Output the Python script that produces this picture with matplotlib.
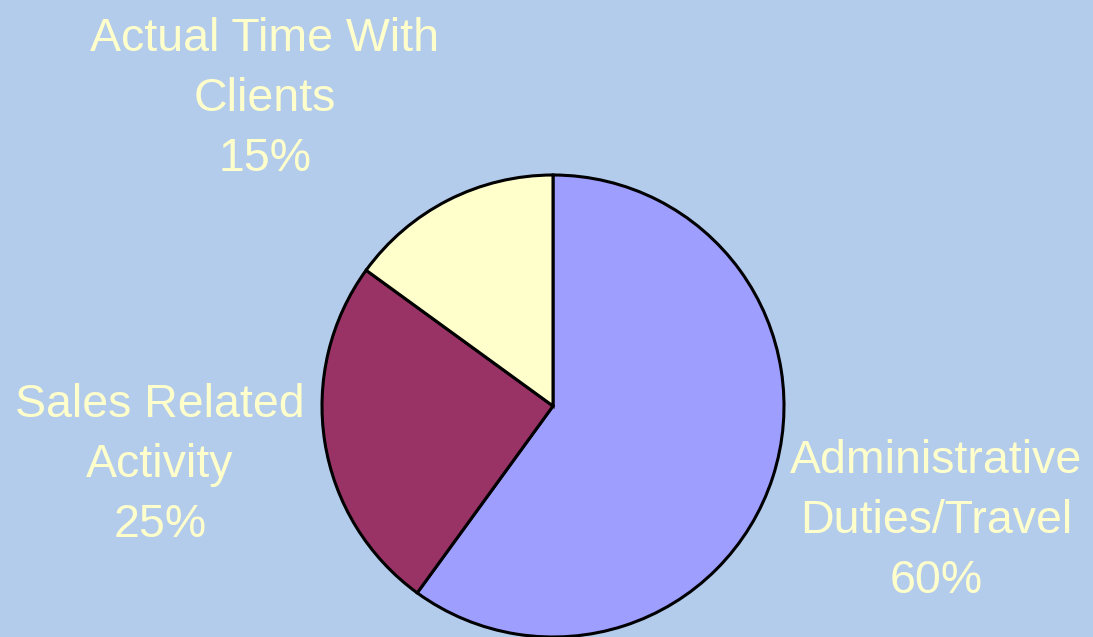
import matplotlib.pyplot as plt

categories = ["Administrative\nDuties/Travel", "Sales Related\nActivity", "Actual Time With\nClients"]
shares = [60, 25, 15]
colors = ["#9E9EFF", "#993366", "#FFFFCC"]

# label centres in pixels (x, y from top)
label_pos = [(936, 521), (160, 465), (265, 99)]

bg = "#B4CCEC"
fig = plt.figure(figsize=(10.93, 6.37), dpi=100, facecolor=bg)
ax = fig.add_axes([0, 0, 1, 1])
ax.set_facecolor(bg)

ax.pie(shares, colors=colors, startangle=90, counterclock=False,
       center=(553, 231), radius=231,
       wedgeprops=dict(edgecolor="black", linewidth=2.2))
ax.set_xlim(0, 1093)
ax.set_ylim(0, 637)
ax.set_aspect("equal")
ax.axis("off")

for name, val, (px, py) in zip(categories, shares, label_pos):
    ax.text(px, 637 - py, f"{name}\n{val}%", ha="center", va="center",
            fontsize=33.5, family="Liberation Sans", color="#FFFFCC",
            linespacing=1.47)

fig.savefig("out.png", dpi=100, facecolor=bg)
